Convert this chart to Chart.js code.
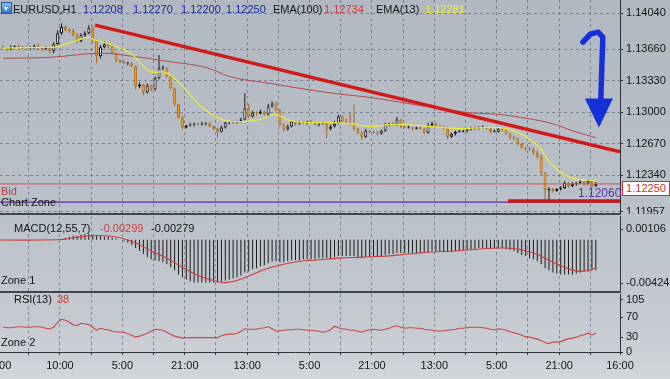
<!DOCTYPE html>
<html><head><meta charset="utf-8">
<script src="https://cdn.jsdelivr.net/npm/chart.js@4.4.1/dist/chart.umd.min.js"></script>
<style>
html,body{margin:0;padding:0;width:670px;height:379px;overflow:hidden;}
body{position:relative;background:linear-gradient(180deg,#b1b8c1 0%,#bac0c8 50%,#c5cad0 85%,#d2d6da 100%);font-family:"Liberation Sans",Arial,sans-serif;}
canvas{position:absolute;left:-30px;}
#cMain{top:0;}
#cMacd{top:216px;}
#cRsi{top:294px;}
.t{position:absolute;font-size:11px;white-space:nowrap;line-height:12px;color:#141414;}
.sep{position:absolute;left:0;width:621px;background:#3f454c;}
.icon{position:absolute;left:1px;top:2px;width:9px;height:10px;background:linear-gradient(#8cc0f4,#2f6fcf);border:1px solid #2a58a8;}
.icon:after{content:"";position:absolute;left:2px;top:4px;border-left:2.5px solid transparent;border-right:2.5px solid transparent;border-top:4px solid #fff;}
.box{position:absolute;left:622px;top:181px;width:46px;height:13px;background:#fff;border:1px solid #c23434;color:#c23434;font-size:11px;line-height:13px;text-align:center;}
</style></head>
<body>
<canvas id="cMain" width="700" height="214"></canvas>
<canvas id="cMacd" width="700" height="76"></canvas>
<canvas id="cRsi" width="700" height="85"></canvas>
<div class="sep" style="top:213px;height:2px;"></div>
<div class="sep" style="top:291px;height:2px;"></div>

<div class="icon"></div>
<div class="t" style="left:13px;top:3px;">EURUSD,H1</div>
<div class="t" style="left:83px;top:3px;color:#1c2b9c;">1.12208</div>
<div class="t" style="left:133px;top:3px;color:#1c2b9c;">1.12270</div>
<div class="t" style="left:181px;top:3px;color:#1c2b9c;">1.12200</div>
<div class="t" style="left:226px;top:3px;color:#1c2b9c;">1.12250</div>
<div class="t" style="left:273px;top:3px;">EMA(100)</div>
<div class="t" style="left:324px;top:3px;color:#c83c3c;">1.12734</div>
<div class="t" style="left:376px;top:3px;">EMA(13)</div>
<div class="t" style="left:425px;top:3px;color:#f2ee2e;">1.12281</div>

<div class="t" style="left:1px;top:185px;color:#c83c3c;">Bid</div>
<div class="t" style="left:1px;top:196px;">Chart Zone</div>
<div class="t" style="left:578px;top:187px;color:#5a34a8;font-size:12px;">1.12060</div>
<div class="box">1.12250</div>

<div class="t" style="left:14px;top:222px;">MACD(12,55,7)</div>
<div class="t" style="left:100px;top:222px;color:#c83c3c;">-0.00299</div>
<div class="t" style="left:151px;top:222px;">-0.00279</div>
<div class="t" style="left:1px;top:274px;">Zone 1</div>
<div class="t" style="left:14px;top:293px;">RSI(13)</div>
<div class="t" style="left:57px;top:293px;color:#c83c3c;">38</div>
<div class="t" style="left:1px;top:336px;">Zone 2</div>

<script>
// ---------- DATA ----------
const firstOpen = 1.13682;
const closes = [
1.13672,1.13661,1.13682,1.13693,1.13672,1.13682,1.13672,1.13672,1.13693,1.13672,
1.13661,1.13672,1.13640,1.13714,1.13829,1.13893,1.13861,1.13851,1.13808,1.13745,
1.13808,1.13829,1.13882,1.13756,1.13587,1.13682,1.13714,1.13693,1.13619,1.13545,
1.13524,1.13514,1.13514,1.13482,1.13272,1.13293,1.13208,1.13282,1.13240,1.13356,
1.13461,1.13461,1.13377,1.13251,1.13082,1.12945,1.12840,1.12861,1.12872,1.12882,
1.12872,1.12882,1.12882,1.12851,1.12829,1.12798,1.12840,1.12893,1.12893,1.12893,
1.12903,1.12924,1.13040,1.12956,1.12998,1.12987,1.13008,1.12977,1.13061,1.13093,
1.13019,1.12872,1.12819,1.12851,1.12903,1.12882,1.12893,1.12893,1.12903,1.12893,
1.12872,1.12882,1.12882,1.12829,1.12851,1.12882,1.12956,1.12903,1.12893,1.12882,
1.12829,1.12787,1.12745,1.12808,1.12798,1.12787,1.12777,1.12808,1.12872,1.12882,
1.12872,1.12924,1.12851,1.12840,1.12840,1.12829,1.12840,1.12829,1.12787,1.12861,
1.12882,1.12861,1.12851,1.12829,1.12745,1.12777,1.12798,1.12798,1.12808,1.12819,
1.12829,1.12840,1.12840,1.12840,1.12829,1.12798,1.12798,1.12829,1.12819,1.12777,
1.12735,1.12724,1.12672,1.12629,1.12619,1.12608,1.12577,1.12535,1.12366,1.12187,
1.12198,1.12177,1.12198,1.12208,1.12261,1.12229,1.12251,1.12261,1.12272,1.12251,
1.12282,1.12229,1.12250];
// upper / lower wick length in pips
const wickUp = [
2,1,2,1,2,1,1,2,2,3, 1,2,1,2,3,4,2,2,3,2, 2,2,3,2,1,2,3,1,1,1, 1,2,1,1,1,2,1,2,1,2,
14,3,1,1,1,1,2,1,2,1, 1,2,1,2,1,1,2,1,1,2, 1,2,16,5,2,1,2,1,3,2, 2,1,1,2,1,1,2,1,1,2,
1,1,2,1,2,3,2,2,3,10, 20,1,2,2,1,1,2,1,2,1, 2,3,1,1,2,1,1,2,1,3, 2,1,1,1,2,1,1,2,1,1,
2,1,1,2,1,1,2,1,1,1, 1,2,1,1,1,2,3,2,2,1, 2,1,1,2,2,1,2,1,2,1, 2,1,2];
const wickDn = [
1,2,1,1,2,1,2,1,1,2, 2,1,3,2,1,2,1,2,1,2, 1,2,1,3,7,2,1,2,1,2, 1,1,2,1,3,2,3,1,2,1,
1,2,1,1,2,1,2,1,1,2, 1,1,2,1,2,6,1,1,2,1, 1,1,1,2,1,2,1,1,2,1, 1,2,2,1,1,2,1,1,2,1,
1,2,1,10,2,1,1,2,1,2, 2,2,3,1,2,1,2,1,1,2, 1,1,2,1,1,2,1,1,2,1, 1,2,1,1,3,1,2,1,1,2,
1,1,2,1,1,2,1,1,2,1, 2,1,2,1,2,1,2,2,3,12, 11,2,1,2,1,2,1,2,1,2, 1,2,1];
// EMA lines read at key bar positions: [barIndex, price]
const ema100 = [[0,1.13566],[12.1,1.13577],[24.9,1.13619],[33.3,1.13587],[42.1,1.13535],[51.8,1.13472],
 [59,1.13366],[68.5,1.13303],[76.2,1.13251],[85.1,1.13198],[94.1,1.13156],[102.3,1.13103],[112.1,1.13040],
 [119.2,1.12998],[127.4,1.12977],[134.6,1.12935],[140.8,1.12882],[146.7,1.12798],[152,1.12734]];
const ema13 = [[0,1.13672],[12,1.13682],[13.3,1.13682],[15.9,1.13714],[18.5,1.13745],[21.8,1.13787],[23.6,1.13756],
 [24.9,1.13745],[27.4,1.13714],[32.6,1.13619],[37.7,1.13429],[41.5,1.13419],[45.4,1.13303],[50.5,1.13072],
 [56.2,1.12924],[60.8,1.12903],[65.9,1.12924],[69.7,1.12977],[73.6,1.12914],[78.7,1.12893],[83.8,1.12893],
 [89,1.12882],[94.1,1.12851],[99.2,1.12872],[103.1,1.12872],[109.5,1.12851],[117.2,1.12829],[127.4,1.12840],
 [132.6,1.12777],[135.1,1.12714],[137.7,1.12629],[139.7,1.12503],[141.5,1.12419],[144.1,1.12345],
 [146.7,1.12303],[149.2,1.12293],[152,1.12281]];
const trendLine = [[23.6,1.13914],[158.2,1.12587]];
const supportLine = [[129.5,1.12072],[158.2,1.12070]];
const bidPrice = 1.12250;
const zonePrice = 1.12060;
const arrowStem = [[148.7,1.13735],[150.6,1.13820],[152.6,1.13840],[153.8,1.13787],[153.6,1.13545],[153.3,1.13145]];
const arrowHead = [[149.2,1.13145],[156.4,1.13145],[152.8,1.12840]];
const priceTicks = [1.14040,1.13660,1.13330,1.13000,1.12670,1.12340,1.11957];

const macd = [null,null,null,null,null,null,null,null,null,null,null,null,null,null,null,
0.0001,0.0002,0.0003,0.0004,0.0004,0.0005,0.0006,0.0006,0.0005,0.0004,
0.0004,0.0003,0.0003,0.0002,0.0001,0.0000,-0.0001,-0.0003,-0.0005,-0.0008,
-0.0011,-0.0014,-0.0017,-0.0019,-0.0020,-0.0021,-0.0022,-0.0024,-0.0027,-0.0030,
-0.0034,-0.0037,-0.0039,-0.0041,-0.0042,-0.0042,-0.0042,-0.0042,-0.0042,-0.0042,
-0.0042,-0.0041,-0.0040,-0.0039,-0.0038,-0.0037,-0.0035,-0.0032,-0.0031,-0.0029,
-0.0028,-0.0026,-0.0025,-0.0023,-0.0021,-0.0021,-0.0022,-0.0022,-0.0021,-0.0020,
-0.0020,-0.0020,-0.0019,-0.0019,-0.0019,-0.0019,-0.0018,-0.0018,-0.0018,-0.0018,
-0.0017,-0.0016,-0.0016,-0.0016,-0.0016,-0.0016,-0.0017,-0.0018,-0.0017,-0.0017,
-0.0017,-0.0017,-0.0017,-0.0015,-0.0014,-0.0014,-0.0013,-0.0013,-0.0013,-0.0013,
-0.0013,-0.0013,-0.0013,-0.0013,-0.0012,-0.0011,-0.0011,-0.0011,-0.0011,-0.0012,
-0.0012,-0.0011,-0.0011,-0.0010,-0.0010,-0.0009,-0.0009,-0.0008,-0.0008,-0.0008,
-0.0008,-0.0008,-0.0008,-0.0008,-0.0009,-0.0010,-0.0011,-0.0013,-0.0015,-0.0016,
-0.0018,-0.0019,-0.0021,-0.0024,-0.0028,-0.0030,-0.0032,-0.0033,-0.0034,-0.0034,
-0.0034,-0.0034,-0.0033,-0.0032,-0.0031,-0.0031,-0.0030,-0.00299];
const macdSignal = [[-8.5,0],[14,0],[18,0.0002],[22,0.0004],[26,0.0004],[30,0.0002],[34,-0.0003],[38,-0.0011],
 [42,-0.0018],[46,-0.0027],[50,-0.0035],[54,-0.0040],[57,-0.0042],[60,-0.0040],[64,-0.0034],[68,-0.0028],
 [72,-0.0024],[76,-0.0021],[80,-0.0020],[86,-0.0018],[92,-0.0017],[98,-0.0016],[104,-0.0014],[110,-0.0012],
 [116,-0.0011],[122,-0.0009],[128,-0.0008],[132,-0.0009],[136,-0.0013],[140,-0.0020],[144,-0.0027],
 [148,-0.0031],[152,-0.00279]];
const macdTicks = [0.00106,-0.00424];

const rsi = [
50,49,49,50,51,51,50,50,51,51, 50,48,47,50,60,66,64,60,55,53, 58,57,55,50,44,48,46,45,42,41,
40,40,37,34,30,32,35,38,42,46, 45,44,40,36,32,30,28,29,29,29, 29,29,29,29,29,29,33,35,36,36,
38,42,47,46,46,46,48,49,51,47, 42,43,44,45,45,46,46,45,44,44, 43,42,40,42,45,52,49,47,46,44,
44,42,40,43,45,46,45,44,46,48, 51,53,50,48,49,49,48,48,46,45, 44,43,42,43,44,45,46,48,48,49,
50,50,50,49,48,46,45,47,46,44, 41,39,37,34,31,30,28,26,23,19, 17,20,20,21,24,27,28,30,33,35,
38,34,38];
const rsiTicks = [105,70,30,0];

const timeLabels = ["18:00","10:00","5:00","21:00","13:00","5:00","21:00","13:00","5:00","21:00","16:00"];

// ---------- LAYOUT ----------
const XMIN = -8.4615, XMAX = 158.205;
const gridIdx = []; for (let k = -2; k <= 17; k++) gridIdx.push(14.6 + 8 * k);
const GRID = 'rgba(78,88,102,0.55)';
const AXC = '#2e3238';
const FONT = {family:'"Liberation Sans", Arial, sans-serif', size:11};
Chart.defaults.font = FONT;

const opens = closes.map((c, i) => i === 0 ? firstOpen : closes[i - 1]);
const bull = closes.map((c, i) => c >= opens[i]);
const P = 0.0001;
const noPad = s => { s.paddingTop = 0; s.paddingBottom = 0; s.paddingLeft = 0; s.paddingRight = 0; };

function xAxis(showLabels) {
  return {
    type:'linear', min:XMIN, max:XMAX, bounds:'data', offset:false,
    afterBuildTicks(s){ s.ticks = gridIdx.map(v => ({value:v})).concat(showLabels ? [{value:XMAX}] : []); },
    ticks:{display:showLabels, autoSkip:false, maxRotation:0, minRotation:0, color:'#151515', padding:4,
      callback(v, idx){
        if (idx === gridIdx.length) return timeLabels[timeLabels.length - 1];
        return idx % 2 === 0 ? timeLabels[idx / 2] : '';
      }},
    grid:{color:GRID, drawTicks:showLabels, tickLength:3, tickColor:AXC, offset:false},
    border:{display:showLabels, color:AXC, dash:[3,3]},
    afterFit(s){ s.height = showLabels ? 27 : 0; noPad(s); }
  };
}
function yAxis(min, max, ticks, fmt, hGrid) {
  return {
    position:'right', min, max, bounds:'data', beginAtZero:false,
    afterBuildTicks(s){ s.ticks = ticks.map(v => ({value:v})); },
    ticks:{color:'#151515', padding:3, autoSkip:false, callback:fmt},
    grid:{color:GRID, tickLength:3, tickColor:AXC, drawOnChartArea:hGrid},
    border:{display:true, color:AXC, dash:[3,3]},
    afterFit(s){ s.width = 50; noPad(s); }
  };
}
const baseOpts = {
  responsive:false, animation:false, devicePixelRatio:1,
  layout:{padding:0, autoPadding:false},
  plugins:{legend:{display:false}, tooltip:{enabled:false}}
};
const toXY = arr => arr.map(([x, y]) => ({x, y}));
const lineDs = (data, color, width, tension) => ({type:'line', data:toXY(data), borderColor:color, borderWidth:width,
  pointRadius:0, tension:tension || 0, fill:false});

const arrowPlugin = {
  id:'arrow',
  afterDatasetsDraw(chart){
    const {ctx, scales:{x, y}} = chart;
    const pt = ([i, p]) => [x.getPixelForValue(i), y.getPixelForValue(p)];
    ctx.save();
    ctx.strokeStyle = '#1630d8'; ctx.fillStyle = '#1630d8';
    ctx.lineWidth = 5.5; ctx.lineCap = 'round'; ctx.lineJoin = 'round';
    ctx.beginPath();
    arrowStem.map(pt).forEach(([px, py], k) => k ? ctx.lineTo(px, py) : ctx.moveTo(px, py));
    ctx.stroke();
    ctx.beginPath();
    arrowHead.map(pt).forEach(([px, py], k) => k ? ctx.lineTo(px, py) : ctx.moveTo(px, py));
    ctx.closePath(); ctx.fill();
    ctx.restore();
  }
};

// ---------- MAIN ----------
new Chart(document.getElementById('cMain'), {
  type:'bar',
  data:{datasets:[
    lineDs(trendLine, '#cf1a1a', 3.5),
    lineDs(supportLine, '#cf1a1a', 3.5),
    lineDs(ema13, '#eceb3a', 1.2, 0.4),
    lineDs(ema100, '#b24848', 1, 0.4),
    lineDs([[XMIN, bidPrice],[XMAX, bidPrice]], '#cc5656', 1),
    lineDs([[XMIN, zonePrice],[XMAX, zonePrice]], '#5b2ea6', 1.2),
    {type:'bar', grouped:false, order:5, barThickness:3, minBarLength:1, borderSkipped:false, inflateAmount:0,
     data:closes.map((c, i) => ({x:i, y:[opens[i], c]})),
     backgroundColor:bull.map(b => b ? '#f6f6f2' : '#f2a52e'),
     borderColor:bull.map(b => b ? '#111111' : '#b66c10'), borderWidth:1},
    {type:'bar', grouped:false, order:6, barThickness:1, inflateAmount:0,
     data:closes.map((c, i) => ({x:i, y:[Math.min(opens[i], c) - wickDn[i] * P, Math.max(opens[i], c) + wickUp[i] * P]})),
     backgroundColor:bull.map(b => b ? '#1a1a1a' : '#a8661c')}
  ]},
  options:Object.assign({}, baseOpts, {scales:{
    x:xAxis(false),
    y:yAxis(1.11935, 1.14177, priceTicks, v => v.toFixed(5), true)
  }}),
  plugins:[arrowPlugin]
});

// ---------- MACD ----------
new Chart(document.getElementById('cMacd'), {
  type:'bar',
  data:{datasets:[
    lineDs(macdSignal, '#c83c3c', 1.1, 0.4),
    {type:'bar', grouped:false, order:5, barThickness:1, inflateAmount:0,
     data:macd.map((v, i) => ({x:i, y:v})), backgroundColor:'#1c1c1c'}
  ]},
  options:Object.assign({}, baseOpts, {scales:{
    x:xAxis(false),
    y:yAxis(-0.005123, 0.002336, macdTicks, v => v.toFixed(5), false)
  }})
});

// ---------- RSI ----------
new Chart(document.getElementById('cRsi'), {
  type:'line',
  data:{datasets:[
    {data:rsi.map((v, i) => ({x:i, y:v})), borderColor:'#c84848', borderWidth:1.1, pointRadius:0, tension:0, fill:false}
  ]},
  options:Object.assign({}, baseOpts, {scales:{
    x:xAxis(true),
    y:yAxis(0, 117.1, rsiTicks, v => String(v), false)
  }})
});
</script>
</body></html>
